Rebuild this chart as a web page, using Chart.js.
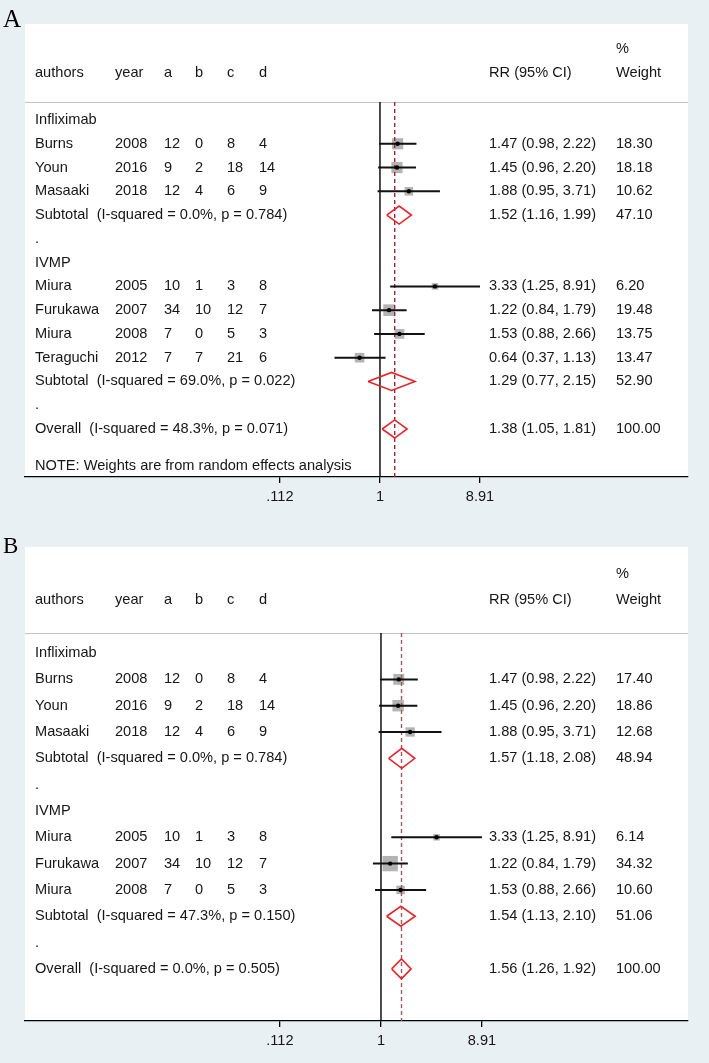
<!DOCTYPE html>
<html>
<head>
<meta charset="utf-8">
<script src="https://cdn.jsdelivr.net/npm/chart.js@4.4.1/dist/chart.umd.min.js"></script>
<style>
  html, body { margin: 0; padding: 0; background: #e8f0f3; }
  canvas { display: block; }
</style>
</head>
<body>
<canvas id="chartA" width="709" height="520"></canvas>
<canvas id="chartB" width="709" height="543"></canvas>
<script>
// shared bits
const groupNames = ['Infliximab', 'IVMP'];
const colHeads = ['authors', 'year', 'a', 'b', 'c', 'd'];
const xTicks = [0.112, 1, 8.91];
const xTickLabels = ['.112', '1', '8.91'];

// panel A
const authorsA = ['Burns', 'Youn', 'Masaaki', 'Miura', 'Furukawa', 'Miura', 'Teraguchi'];
const yearsA = [2008, 2016, 2018, 2005, 2007, 2008, 2012];
const groupA = [0, 0, 0, 1, 1, 1, 1];
const aA = [12, 9, 12, 10, 34, 7, 7];
const bA = [0, 2, 4, 1, 10, 0, 7];
const cA = [8, 18, 6, 3, 12, 5, 21];
const dA = [4, 14, 9, 8, 7, 3, 6];
const rrA = [1.47, 1.45, 1.88, 3.33, 1.22, 1.53, 0.64];
const loA = [0.98, 0.96, 0.95, 1.25, 0.84, 0.88, 0.37];
const hiA = [2.22, 2.20, 3.71, 8.91, 1.79, 2.66, 1.13];
const weightA = [18.30, 18.18, 10.62, 6.20, 19.48, 13.75, 13.47];
const subI2A = ['0.0%', '69.0%'];
const subPA = ['0.784', '0.022'];
const subRrA = [1.52, 1.29];
const subLoA = [1.16, 0.77];
const subHiA = [1.99, 2.15];
const subWeightA = [47.10, 52.90];
const overallA = [1.38, 1.05, 1.81];   // rr, lo, hi
const overallStatA = ['48.3%', '0.071'];
const noteA = 'NOTE: Weights are from random effects analysis';

// panel B
const authorsB = ['Burns', 'Youn', 'Masaaki', 'Miura', 'Furukawa', 'Miura'];
const yearsB = [2008, 2016, 2018, 2005, 2007, 2008];
const groupB = [0, 0, 0, 1, 1, 1];
const aB = [12, 9, 12, 10, 34, 7];
const bB = [0, 2, 4, 1, 10, 0];
const cB = [8, 18, 6, 3, 12, 5];
const dB = [4, 14, 9, 8, 7, 3];
const rrB = [1.47, 1.45, 1.88, 3.33, 1.22, 1.53];
const loB = [0.98, 0.96, 0.95, 1.25, 0.84, 0.88];
const hiB = [2.22, 2.20, 3.71, 8.91, 1.79, 2.66];
const weightB = [17.40, 18.86, 12.68, 6.14, 34.32, 10.60];
const subI2B = ['0.0%', '47.3%'];
const subPB = ['0.784', '0.150'];
const subRrB = [1.57, 1.54];
const subLoB = [1.18, 1.13];
const subHiB = [2.08, 2.10];
const subWeightB = [48.94, 51.06];
const overallB = [1.56, 1.26, 1.92];
const overallStatB = ['0.0%', '0.505'];

const ci = (r, l, h) => `${r.toFixed(2)} (${l.toFixed(2)}, ${h.toFixed(2)})`;
const FONT = '"Liberation Sans", Arial, sans-serif';

// rows of the table, top to bottom
function buildRows(p) {
  const rows = [];
  let r = 0;
  groupNames.forEach((g, gi) => {
    rows.push({ type: 'group', y: r++, gi });
    p.authors.forEach((n, i) => {
      if (p.group[i] === gi) rows.push({ type: 'study', y: r++, i });
    });
    rows.push({ type: 'sub', y: r++, gi });
    rows.push({ type: 'dot', y: r++ });
  });
  rows.push({ type: 'overall', y: r++ });
  return rows;
}

function textPlugin(p, rows) {
  const colX = [35, 115, 164, 195, 227, 259];
  const rrX = 489, wX = 616;
  return {
    id: 'forestText',
    beforeDraw(chart) {
      const { ctx, chartArea: ca } = chart;
      ctx.save();
      ctx.fillStyle = '#ffffff';
      ctx.fillRect(ca.left, ca.top, ca.width, ca.height);
      const ys = Math.round(chart.scales.y.getPixelForValue(p.sepRow)) + 0.5;
      ctx.strokeStyle = '#c2c2c2';
      ctx.lineWidth = 1.2;
      ctx.beginPath();
      ctx.moveTo(ca.left, ys);
      ctx.lineTo(ca.right, ys);
      ctx.stroke();
      ctx.restore();
    },
    afterDraw(chart) {
      const { ctx } = chart;
      const py = v => chart.scales.y.getPixelForValue(v);
      ctx.save();
      ctx.fillStyle = '#161616';
      ctx.font = '14.6px ' + FONT;
      ctx.textBaseline = 'middle';
      ctx.textAlign = 'left';
      const put = (t, x, r) => ctx.fillText(String(t), x, py(r));

      // header
      colHeads.forEach((h, k) => put(h, colX[k], -2));
      put('RR (95% CI)', rrX, -2);
      put('%', wX, -3);
      put('Weight', wX, -2);

      rows.forEach(row => {
        if (row.type === 'group') put(groupNames[row.gi], colX[0], row.y);
        if (row.type === 'dot') put('.', colX[0], row.y);
        if (row.type === 'study') {
          const i = row.i;
          [p.authors[i], p.years[i], p.a[i], p.b[i], p.c[i], p.d[i]]
            .forEach((t, k) => put(t, colX[k], row.y));
          put(ci(p.rr[i], p.lo[i], p.hi[i]), rrX, row.y);
          put(p.weight[i].toFixed(2), wX, row.y);
        }
        if (row.type === 'sub') {
          const g = row.gi;
          put(`Subtotal  (I-squared = ${p.subI2[g]}, p = ${p.subP[g]})`, colX[0], row.y);
          put(ci(p.subRr[g], p.subLo[g], p.subHi[g]), rrX, row.y);
          put(p.subWeight[g].toFixed(2), wX, row.y);
        }
        if (row.type === 'overall') {
          put(`Overall  (I-squared = ${p.overallStat[0]}, p = ${p.overallStat[1]})`, colX[0], row.y);
          put(ci(p.overall[0], p.overall[1], p.overall[2]), rrX, row.y);
          put('100.00', wX, row.y);
        }
      });
      if (p.note) put(p.note, colX[0], p.noteRow);

      // panel letter
      ctx.fillStyle = '#000';
      ctx.font = p.letterSize + 'px "Liberation Serif", "Times New Roman", serif';
      ctx.textBaseline = 'alphabetic';
      ctx.fillText(p.letter, 3, p.letterBase);
      ctx.restore();
    }
  };
}

function makeChart(id, p) {
  const rows = buildRows(p);
  const h = 0.38; // half height of diamonds, in rows

  const ciLine = [], squares = [], sqRadius = [], dots = [], diamonds = [];
  rows.forEach(row => {
    if (row.type === 'study') {
      const i = row.i;
      ciLine.push({ x: p.lo[i], y: row.y }, { x: p.hi[i], y: row.y }, { x: p.hi[i], y: null });
      squares.push({ x: p.rr[i], y: row.y });
      sqRadius.push(1.85 * Math.sqrt(p.weight[i]));
      dots.push({ x: p.rr[i], y: row.y });
    }
    let d = null;
    if (row.type === 'sub') d = [p.subRr[row.gi], p.subLo[row.gi], p.subHi[row.gi]];
    if (row.type === 'overall') d = p.overall;
    if (d) {
      diamonds.push(
        { x: d[1], y: row.y }, { x: d[0], y: row.y - h }, { x: d[2], y: row.y },
        { x: d[0], y: row.y + h }, { x: d[1], y: row.y }, { x: d[1], y: null });
    }
  });

  const datasets = [
    { data: [{ x: 1, y: p.sepRow }, { x: 1, y: p.yMax }], showLine: true, pointRadius: 0,
      borderColor: '#000', borderWidth: 1.4, order: 7 },
    { data: squares, pointStyle: 'rect', pointRadius: sqRadius, backgroundColor: '#b3b3b3',
      borderWidth: 0, order: 6 },
    { data: [{ x: p.overall[0], y: p.sepRow }, { x: p.overall[0], y: p.yMax }], showLine: true,
      pointRadius: 0, borderColor: p.dashColor, borderWidth: 1.4, borderDash: [4, 3], order: 5 },
    { data: ciLine, showLine: true, pointRadius: 0, borderColor: '#111', borderWidth: 2, order: 4 },
    { data: dots, pointStyle: 'circle', pointRadius: 2.2, backgroundColor: '#000', borderWidth: 0, order: 3 },
    { data: diamonds, showLine: true, pointRadius: 0, borderColor: '#e3262c', borderWidth: 1.6, order: 2 }
  ];

  return new Chart(document.getElementById(id), {
    type: 'scatter',
    data: { datasets },
    options: {
      responsive: false,
      animation: false,
      events: [],
      layout: { padding: { left: 25, right: 21, top: p.padTop, bottom: 0 } },
      plugins: { legend: { display: false }, tooltip: { enabled: false } },
      scales: {
        x: {
          type: 'logarithmic',
          bounds: 'data',
          min: p.xMin,
          max: p.xMax,
          afterBuildTicks: s => { s.ticks = xTicks.map(v => ({ value: v })); },
          afterFit: s => { s.height = p.axisH; },
          ticks: {
            callback: v => xTickLabels[xTicks.indexOf(v)],
            color: '#161616',
            font: { family: FONT, size: 14.6 },
            padding: 5,
            autoSkip: false,
            maxRotation: 0
          },
          grid: { drawOnChartArea: false, drawTicks: true, tickLength: 6, color: '#000', lineWidth: 1.3 },
          border: { display: true, color: '#000', width: 1.3 }
        },
        y: { type: 'linear', display: false, reverse: true, bounds: 'data', min: p.yMin, max: p.yMax }
      }
    },
    plugins: [textPlugin(p, rows)]
  });
}

makeChart('chartA', {
  authors: authorsA, years: yearsA, group: groupA, a: aA, b: bA, c: cA, d: dA,
  rr: rrA, lo: loA, hi: hiA, weight: weightA,
  subI2: subI2A, subP: subPA, subRr: subRrA, subLo: subLoA, subHi: subHiA, subWeight: subWeightA,
  overall: overallA, overallStat: overallStatA, note: noteA, noteRow: 14.56,
  yMin: -4.04, yMax: 15.02, sepRow: -0.76, padTop: 24, axisH: 43,
  xMin: 4.26e-4, xMax: 841, dashColor: '#9e2433',
  letter: 'A', letterSize: 25, letterBase: 27
});

makeChart('chartB', {
  authors: authorsB, years: yearsB, group: groupB, a: aB, b: bB, c: cB, d: dB,
  rr: rrB, lo: loB, hi: hiB, weight: weightB,
  subI2: subI2B, subP: subPB, subRr: subRrB, subLo: subLoB, subHi: subHiB, subWeight: subWeightB,
  overall: overallB, overallStat: overallStatB, note: null,
  yMin: -4.03, yMax: 13.98, sepRow: -0.76, padTop: 27, axisH: 42,
  xMin: 4.48e-4, xMax: 773, dashColor: '#a2575e',
  letter: 'B', letterSize: 23, letterBase: 33
});
</script>
</body>
</html>
